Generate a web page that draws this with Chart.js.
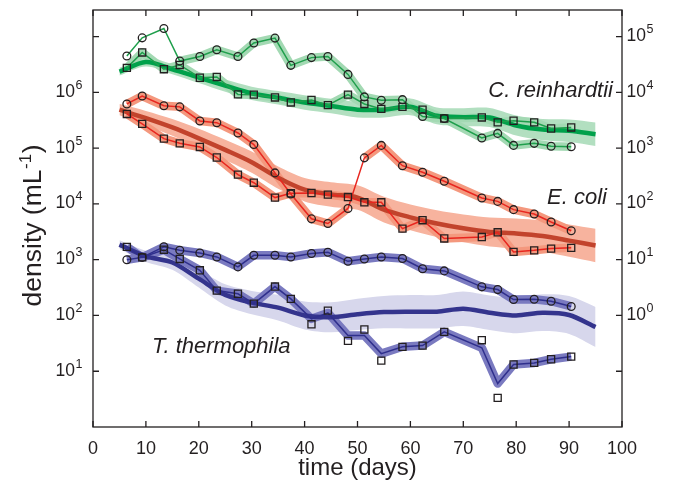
<!DOCTYPE html>
<html lang="en">
  <head>
    <meta charset="UTF-8" />
    <title>density vs time</title>
    <script src="https://cdn.jsdelivr.net/npm/chart.js@4"></script>
    <style>
      body {
        margin: 0;
        background: #fff;
      }
      #chart {
        display: block;
      }
    </style>
  </head>
  <body>
    <canvas id="chart" width="674" height="487"></canvas>
    <script>
      // sampling days (markers and thin lines)
      const days = [6.4, 9.3, 13.4, 16.4, 20.2, 23.4, 27.4, 30.4, 34.4, 37.4, 41.3, 44.4,
        48.2, 51.3, 54.5, 58.5, 62.3, 66.4, 73.5, 76.5, 79.5, 83.4, 86.6, 90.4]
      // days for the mean curves
      const meanDays = [5, 10, 15, 20, 25, 30, 35, 40, 45, 50, 55, 60, 65, 70, 75, 80, 85, 90, 95]

      // C. reinhardtii
      const greenCircles = [4.5e6, 9.5e6, 1.4e7, 3.65e6, 4.4e6, 5.8e6, 4.4e6, 7.7e6, 9.4e6, 3.05e6, 4.2e6, 4.4e6,
        2.1e6, 8.3e5, 7.2e5, 7.4e5, 3.7e5, 3.4e5, 1.52e5, 1.84e5, 1.12e5, 1.22e5, 1.08e5, 1.06e5]
      const greenSquares = [2.75e6, 5.2e6, 2.6e6, 3.1e6, 1.83e6, 1.89e6, 9.2e5, 9.1e5, 8.1e5, 6.6e5, 7.3e5, 5.9e5,
        9.1e5, 6.2e5, 5.05e5, 5.5e5, 4.9e5, 3.4e5, 3.55e5, 2.9e5, 3.1e5, 2.9e5, 2.25e5, 2.35e5]
      const greenMean = [2.35e6, 3.5e6, 2.6e6, 1.85e6, 1.32e6, 9.6e5, 8.0e5, 6.6e5, 5.7e5, 4.9e5, 4.9e5, 5.5e5,
        3.8e5, 3.6e5, 3.55e5, 2.55e5, 2.15e5, 2.05e5, 1.78e5]
      const greenSpread = [0.07, 0.08, 0.09, 0.1, 0.11, 0.12, 0.12, 0.13, 0.13, 0.14, 0.14, 0.15, 0.15, 0.16,
        0.17, 0.18, 0.19, 0.2, 0.21]

      // E. coli
      const redCircles = [6.2e5, 8.6e5, 5.75e5, 5.5e5, 3.07e5, 2.86e5, 1.87e5, 1.16e5, 3.6e4, 1.51e4, 5.4e3, 4.45e3,
        8.3e3, 6.7e4, 1.12e5, 4.85e4, 3.7e4, 2.55e4, 1.28e4, 1.11e4, 7.9e3, 6.6e3, 4.75e3, 3.3e3]
      const redSquares = [4.1e5, 2.72e5, 1.48e5, 1.22e5, 1.05e5, 6.8e4, 3.35e4, 2.4e4, 1.3e4, 1.55e4, 1.57e4, 1.47e4,
        1.33e4, 1.07e4, 1.07e4, 3.6e3, 5.1e3, 2.4e3, 2.55e3, 3.1e3, 1.38e3, 1.47e3, 1.58e3, 1.63e3]
      const redMean = [4.9e5, 3.45e5, 2.35e5, 1.5e5, 9.3e4, 5.6e4, 2.95e4, 1.8e4, 1.48e4, 1.3e4, 7.9e3, 5.75e3,
        4.45e3, 3.65e3, 3.15e3, 2.95e3, 2.65e3, 2.2e3, 1.8e3]
      const redSpread = [0.1, 0.13, 0.15, 0.17, 0.18, 0.19, 0.2, 0.21, 0.22, 0.22, 0.23, 0.23, 0.24, 0.25,
        0.26, 0.27, 0.28, 0.29, 0.3]

      // T. thermophila
      const blueCircles = [1.0e3, 1.1e3, 1.7e3, 1.48e3, 1.32e3, 1.12e3, 743, 1.2e3, 1.2e3, 1.12e3, 1.29e3, 1.36e3,
        935, 1.03e3, 1.12e3, 1.05e3, 690, 630, 326, 291, 193, 195, 180, 145]
      const blueSquares = [1.7e3, 1.1e3, 1.51e3, 1.03e3, 645, 279, 245, 163, 330, 198, 69.5, 122,
        35, 56, 15.5, 27.4, 28.8, 50.8, 36, 3.33, 13.2, 14.1, 16.4, 18.3]
      // smoothed line for the squares (leaves the outlying points)
      const blueSquareLine = [1.7e3, 1.1e3, 1.51e3, 1.03e3, 645, 279, 245, 163, 330, 198, 87, 111,
        43.6, 43.6, 20.7, 27.4, 28.8, 50.8, 26.3, 6.0, 13.2, 14.1, 16.4, 18.3]
      const blueMean = [1.86e3, 1.15e3, 890, 457, 234, 170, 138, 100, 93, 105, 115, 117,
        117, 132, 112, 100, 112, 102, 62]
      const blueSpread = [0.08, 0.1, 0.13, 0.16, 0.19, 0.21, 0.23, 0.25, 0.27, 0.28, 0.29, 0.3, 0.3, 0.31,
        0.31, 0.32, 0.33, 0.34, 0.36]

      const leftExponents = [1, 2, 3, 4, 5, 6]
      const rightExponents = [0, 1, 2, 3, 4, 5]
      const xTicks = [0, 10, 20, 30, 40, 50, 60, 70, 80, 90, 100]

      const FONT = 'Liberation Sans, Arial, Helvetica, sans-serif'
      const INK = '#231f20'

      const colors = {
        green: { thin: '#1f9f4c', band: '#a3d9b3', thick: '#00a14b', meanBand: '#b2dfc0' },
        red: { thin: '#e8261f', band: '#f4987e', thick: '#c2432c', meanBand: '#f7b39e' },
        blue: { thin: '#2f2f8c', band: '#7a7ac0', thick: '#34348d', meanBand: '#d7d7ec' }
      }

      const pts = (xs, ys) => xs.map((x, i) => ({ x: x, y: ys[i] }))

      const datasets = []

      function addSpecies(c, circles, circleLine, circleGaps, squares, squareLine, squareGaps, mean, spread) {
        const lowIndex = datasets.length + 1
        datasets.push({
          data: pts(meanDays, mean.map((m, i) => m * Math.pow(10, spread[i]))),
          borderWidth: 0, pointRadius: 0, backgroundColor: c.meanBand,
          fill: { target: lowIndex }, tension: 0.3, order: 60
        })
        datasets.push({
          data: pts(meanDays, mean.map((m, i) => m / Math.pow(10, spread[i]))),
          borderWidth: 0, pointRadius: 0, fill: false, tension: 0.3, order: 60
        })
        // thin bands around each replicate line
        ;[[circleLine, circleGaps], [squareLine, squareGaps]].forEach(([line, gaps]) => {
          datasets.push({
            data: pts(days, line), borderColor: c.band, borderWidth: 8.5, pointRadius: 0,
            fill: false, order: 50, borderJoinStyle: 'round',
            segment: { borderColor: ctx => (gaps.includes(ctx.p0DataIndex) ? 'rgba(0,0,0,0)' : undefined) }
          })
        })
        datasets.push({
          data: pts(meanDays, mean), borderColor: c.thick, borderWidth: 4.5, pointRadius: 0,
          fill: false, tension: 0.3, order: 40, borderJoinStyle: 'round'
        })
        ;[circleLine, squareLine].forEach(line => {
          datasets.push({
            data: pts(days, line), borderColor: c.thin, borderWidth: 1.5, pointRadius: 0,
            fill: false, order: 30
          })
        })
        datasets.push({
          data: pts(days, circles), showLine: false, pointStyle: 'circle', pointRadius: 3.9,
          pointBorderColor: INK, pointBorderWidth: 1.3, pointBackgroundColor: 'rgba(0,0,0,0)', order: 10
        })
        datasets.push({
          data: pts(days, squares), showLine: false, pointStyle: 'rect', pointRadius: 5,
          pointBorderColor: INK, pointBorderWidth: 1.3, pointBackgroundColor: 'rgba(0,0,0,0)', order: 10
        })
      }

      addSpecies(colors.green, greenCircles, greenCircles, [0, 1, 2], greenSquares, greenSquares, [], greenMean, greenSpread)
      addSpecies(colors.red, redCircles, redCircles, [12], redSquares, redSquares, [], redMean, redSpread)
      addSpecies(colors.blue, blueCircles, blueCircles, [], blueSquares, blueSquareLine, [], blueMean, blueSpread)

      function drawPower(ctx, x, y, exp, align) {
        ctx.textBaseline = 'alphabetic'
        ctx.font = '17.5px ' + FONT
        const baseW = ctx.measureText('10').width
        ctx.font = '12.5px ' + FONT
        const expW = ctx.measureText(String(exp)).width
        const left = align === 'right' ? x - baseW - expW : x
        ctx.textAlign = 'left'
        ctx.font = '17.5px ' + FONT
        ctx.fillText('10', left, y + 4.5)
        ctx.font = '12.5px ' + FONT
        ctx.fillText(String(exp), left + baseW + 0.5, y - 3.5)
      }

      const frame = {
        id: 'frame',
        afterDraw(chart) {
          const { ctx, chartArea: a } = chart
          const xs = chart.scales.x
          const ys = chart.scales.y
          const yr = chart.scales.y2
          ctx.save()
          ctx.strokeStyle = INK
          ctx.fillStyle = INK
          ctx.lineWidth = 1.3
          ctx.strokeRect(a.left, a.top, a.right - a.left, a.bottom - a.top)
          ctx.beginPath()
          xTicks.forEach(v => {
            const px = xs.getPixelForValue(v)
            ctx.moveTo(px, a.bottom)
            ctx.lineTo(px, a.bottom - 6)
            ctx.moveTo(px, a.top)
            ctx.lineTo(px, a.top + 6)
          })
          leftExponents.concat([7]).forEach(e => {
            const py = ys.getPixelForValue(Math.pow(10, e))
            ctx.moveTo(a.left, py)
            ctx.lineTo(a.left + 6, py)
          })
          rightExponents.concat([-1]).forEach(e => {
            const py = yr.getPixelForValue(Math.pow(10, e))
            ctx.moveTo(a.right, py)
            ctx.lineTo(a.right - 6, py)
          })
          ctx.stroke()

          leftExponents.forEach(e => {
            drawPower(ctx, a.left - 11, ys.getPixelForValue(Math.pow(10, e)), e, 'right')
          })
          rightExponents.forEach(e => {
            drawPower(ctx, a.right + 4.5, yr.getPixelForValue(Math.pow(10, e)), e, 'left')
          })

          // y-axis title with superscript
          ctx.save()
          ctx.translate(40.5, 226)
          ctx.rotate(-Math.PI / 2)
          ctx.textBaseline = 'alphabetic'
          const main = 'density (mL'
          ctx.font = '17px ' + FONT
          const supW = ctx.measureText('-1').width
          ctx.font = '26.5px ' + FONT
          const mainW = ctx.measureText(main).width
          const closeW = ctx.measureText(')').width
          const tx = -(mainW + supW + closeW) / 2
          ctx.textAlign = 'left'
          ctx.fillText(main, tx, 0)
          ctx.font = '17px ' + FONT
          ctx.fillText('-1', tx + mainW + 0.5, -10)
          ctx.font = '26.5px ' + FONT
          ctx.fillText(')', tx + mainW + supW + 1, 0)
          ctx.restore()

          // species names
          ctx.font = 'italic 22px ' + FONT
          ctx.textBaseline = 'alphabetic'
          ctx.textAlign = 'right'
          ctx.fillText('C. reinhardtii', 613, 97)
          ctx.fillText('E. coli', 607, 204)
          ctx.textAlign = 'left'
          ctx.fillText('T. thermophila', 152, 353)
          ctx.restore()
        }
      }

      new Chart(document.getElementById('chart'), {
        type: 'line',
        data: { datasets: datasets },
        options: {
          responsive: false,
          animation: false,
          devicePixelRatio: 1,
          layout: { padding: { left: 93, right: 52, top: 10, bottom: 0 } },
          plugins: { legend: { display: false }, tooltip: { enabled: false } },
          scales: {
            x: {
              type: 'linear',
              min: 0,
              max: 100,
              grid: { display: false, drawTicks: false },
              border: { display: false },
              afterBuildTicks: s => { s.ticks = xTicks.map(v => ({ value: v })) },
              ticks: { color: INK, font: { family: FONT, size: 18 }, padding: 11, maxRotation: 0 },
              title: {
                display: true,
                text: 'time (days)',
                color: INK,
                font: { family: FONT, size: 24 },
                padding: { top: 0, bottom: 4 }
              },
              afterFit: s => { s.height = 60 }
            },
            y: { type: 'logarithmic', min: 1, max: 3e7, display: false },
            y2: { type: 'logarithmic', min: 0.01, max: 3e5, display: false }
          }
        },
        plugins: [frame]
      })
    </script>
  </body>
</html>
